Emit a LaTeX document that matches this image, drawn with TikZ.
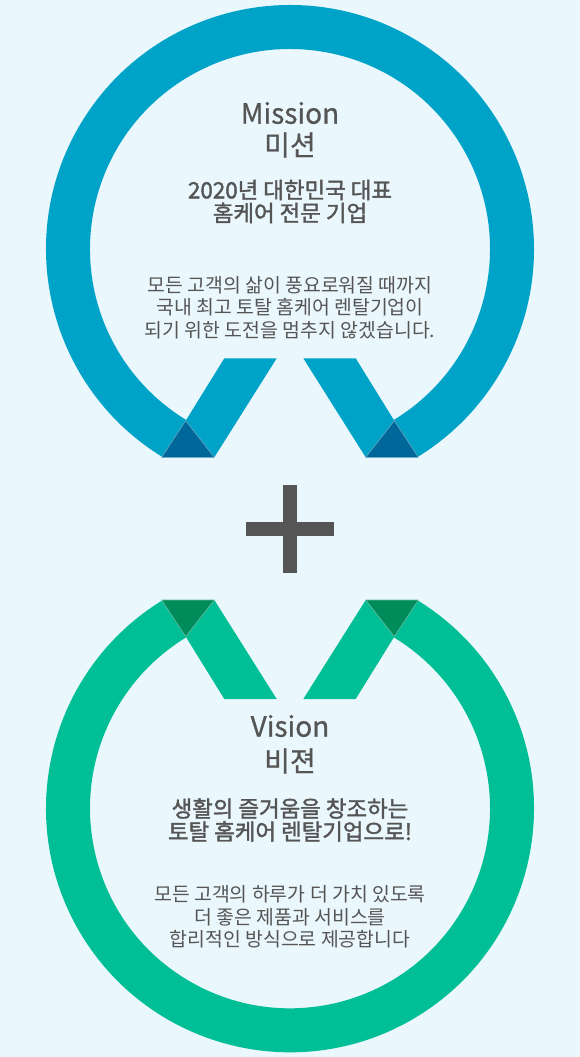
\documentclass[tikz,border=0pt]{standalone}
\usepackage{fontspec}
\setmainfont{Noto Sans CJK KR}
\newfontfamily\krsemi{Noto Sans CJK KR}[FakeBold=1.6]
\newfontfamily\krmid{Noto Sans CJK KR}[FakeBold=0.8]
\usepackage{xcolor}
\usetikzlibrary{positioning,calc}
\definecolor{pagebg}{HTML}{EAF7FC}
\definecolor{missionblue}{HTML}{00A3C8}
\definecolor{missiondark}{HTML}{00679A}
\definecolor{visiongreen}{HTML}{00BF96}
\definecolor{visiondark}{HTML}{008C5A}
\definecolor{textgray}{HTML}{555555}

\begin{document}
\begin{tikzpicture}[
    x=1pt, y=1pt,
    heading/.style={text=textgray, inner sep=0pt, font=\krmid\fontsize{28}{30}\selectfont},
    subhead/.style={text=textgray, inner sep=0pt, align=center, font=\krsemi\fontsize{22.4}{23}\selectfont},
    bodytext/.style={text=textgray, inner sep=0pt, align=center, font=\fontsize{19.4}{22.5}\selectfont},
    fold/.style={fill=#1, draw=#1!60!white, line width=0.6pt, line join=round},
    plusbar/.style={fill=textgray}
]
    % page
    \fill[pagebg] (0,0) rectangle (580,-1057);
    \useasboundingbox (0,0) rectangle (580,-1057);

    % Mission ring (centre at 290,249)
    \begin{scope}[shift={(290,-249)}]
        \fill[missionblue] (238.5:244) arc[start angle=238.5, end angle=-58.5, radius=244]
            -- (-58.7:200) arc[start angle=-58.7, end angle=238.7, radius=200] -- cycle;
        % ribbons
        \fill[missionblue] (-104.3,-171.7) -- (-65.7,-109.3) -- (-13.3,-109.3) -- (-75.7,-208.3) -- cycle;
        \fill[missionblue] (104.3,-171.7) -- (65.7,-109.3) -- (13.3,-109.3) -- (75.7,-208.3) -- cycle;
        % folds
        \draw[fold=missiondark] (-128.3,-208.3) -- (-75.7,-208.3) -- (-104.3,-171.7) -- cycle;
        \draw[fold=missiondark] (128.3,-208.3) -- (75.7,-208.3) -- (104.3,-171.7) -- cycle;
    \end{scope}

    % Vision ring, mirrored (centre at 290,808.3)
    \begin{scope}[shift={(290,-808.3)}, yscale=-1]
        \fill[visiongreen] (238.5:244) arc[start angle=238.5, end angle=-58.5, radius=244]
            -- (-58.7:200) arc[start angle=-58.7, end angle=238.7, radius=200] -- cycle;
        % ribbons
        \fill[visiongreen] (-104.3,-171.7) -- (-65.7,-109.3) -- (-13.3,-109.3) -- (-75.7,-208.3) -- cycle;
        \fill[visiongreen] (104.3,-171.7) -- (65.7,-109.3) -- (13.3,-109.3) -- (75.7,-208.3) -- cycle;
        % folds
        \draw[fold=visiondark] (-128.3,-208.3) -- (-75.7,-208.3) -- (-104.3,-171.7) -- cycle;
        \draw[fold=visiondark] (128.3,-208.3) -- (75.7,-208.3) -- (104.3,-171.7) -- cycle;
    \end{scope}

    % plus sign
    \fill[plusbar] (283.3,-485) rectangle (297.3,-572.7);
    \fill[plusbar] (246,-522.3) rectangle (334.3,-535.7);

    % Mission text
    \node[heading] (mtitle) at (290,-113) {Mission};
    \node[heading] (mkor) at (290,-145) {미션};
    \node[subhead] (msub) at (290,-201.5) {2020년 대한민국 대표\\홈케어 전문 기업};
    \node[bodytext] (mbody) at (290,-307.5) {모든 고객의 삶이 풍요로워질 때까지\\국내 최고 토탈 홈케어 렌탈기업이\\되기 위한 도전을 멈추지 않겠습니다.};

    % Vision text
    \node[heading] (vtitle) at (290,-726) {Vision};
    \node[heading] (vkor) at (290,-761) {비젼};
    \node[subhead] (vsub) at (290,-820) {생활의 즐거움을 창조하는\\토탈 홈케어 렌탈기업으로!};
    \node[bodytext] (vbody) at (290,-917) {모든 고객의 하루가 더 가치 있도록\\더 좋은 제품과 서비스를\\합리적인 방식으로 제공합니다};
\end{tikzpicture}
\end{document}
